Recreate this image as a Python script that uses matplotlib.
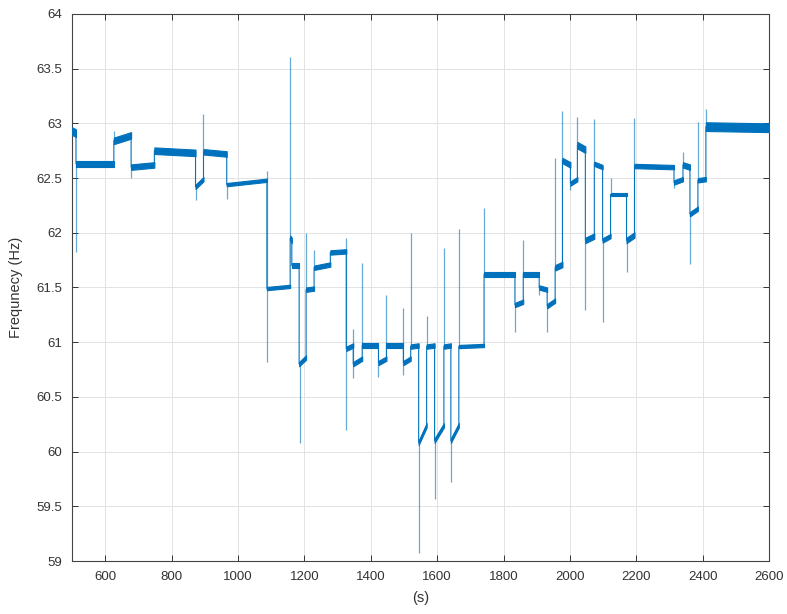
import numpy as np
import matplotlib.pyplot as plt

plt.rcParams['font.family'] = ['Liberation Sans', 'DejaVu Sans']

# step segments: start time (s), level at start and end of segment (Hz), noise half-width
seg_t = [500, 512, 626, 678, 748, 872, 896, 966, 1087, 1157, 1162, 1184, 1205, 1229,
         1278, 1326, 1347, 1374, 1423, 1447, 1498, 1520, 1544, 1568, 1592, 1620, 1641,
         1665, 1741, 1834, 1859, 1907, 1931, 1955, 1977, 2001, 2022, 2046, 2073, 2098,
         2122, 2170, 2194, 2313, 2340, 2361, 2385, 2409]
seg_end = 2600
lvl_start = [62.93, 62.63, 62.84, 62.60, 62.75, 62.42, 62.74, 62.44, 61.49, 61.95, 61.70,
             60.80, 61.48, 61.68, 61.82, 60.94, 60.80, 60.97, 60.81, 60.97, 60.81, 60.96,
             60.08, 60.96, 60.10, 60.96, 60.10, 60.96, 61.62, 61.34, 61.62, 61.50, 61.33,
             61.68, 62.66, 62.45, 62.80, 61.93, 62.63, 61.93, 62.35, 61.93, 62.61, 62.46,
             62.62, 62.17, 62.48, 62.97]
lvl_end = [62.91, 62.63, 62.89, 62.62, 62.73, 62.49, 62.72, 62.48, 61.51, 61.93, 61.70,
           60.86, 61.49, 61.71, 61.83, 60.97, 60.85, 60.97, 60.85, 60.97, 60.85, 60.97,
           60.24, 60.97, 60.24, 60.97, 60.24, 60.97, 61.62, 61.37, 61.62, 61.48, 61.38,
           61.71, 62.62, 62.49, 62.76, 61.97, 62.60, 61.97, 62.35, 61.98, 62.60, 62.49,
           62.60, 62.22, 62.49, 62.96]
spread = [0.035, 0.025, 0.03, 0.025, 0.03, 0.02, 0.025, 0.015, 0.015, 0.025, 0.02,
          0.02, 0.02, 0.02, 0.02, 0.02, 0.02, 0.02, 0.02, 0.02, 0.02, 0.02,
          0.02, 0.02, 0.02, 0.02, 0.02, 0.015, 0.02, 0.02, 0.025, 0.02, 0.02,
          0.025, 0.025, 0.02, 0.03, 0.025, 0.02, 0.02, 0.015, 0.025, 0.02, 0.02,
          0.025, 0.02, 0.02, 0.04]

# transient spikes: time (s) and extreme value (Hz)
spike_t = [512, 626, 678, 872, 896, 966, 1087, 1087, 1157, 1188, 1205, 1229, 1326, 1326,
           1347, 1347, 1374, 1423, 1447, 1498, 1498, 1520, 1544, 1568, 1592, 1620, 1641,
           1665, 1741, 1834, 1859, 1907, 1931, 1955, 1977, 2001, 2022, 2046, 2073, 2098,
           2122, 2170, 2194, 2313, 2340, 2361, 2385, 2409]
spike_y = [61.82, 62.93, 62.50, 62.30, 63.09, 62.31, 62.56, 60.82, 63.61, 60.08, 62.00,
           61.84, 61.95, 60.20, 61.12, 60.67, 61.72, 60.68, 61.43, 61.31, 60.70, 62.00,
           59.07, 61.24, 59.57, 61.86, 59.72, 62.03, 62.23, 61.09, 61.93, 61.43, 61.09,
           62.68, 63.11, 62.39, 63.06, 61.29, 63.04, 61.18, 62.50, 61.64, 63.05, 62.41,
           62.74, 61.71, 63.01, 63.13]

blue = '#0072BD'
ends = seg_t[1:] + [seg_end]

fig = plt.figure(figsize=(7.87, 6.14), dpi=100)
ax = fig.add_axes([0.0915, 0.0863, 0.886, 0.891])

# connecting trace
xs, ys = [], []
for t0, t1, a, b in zip(seg_t, ends, lvl_start, lvl_end):
    xs += [t0, t1]
    ys += [a, b]
ax.plot(xs, ys, color=blue, lw=0.8, zorder=3)

# noisy plateaus
for t0, t1, a, b, s in zip(seg_t, ends, lvl_start, lvl_end, spread):
    ax.fill_between([t0, t1], [a - s, b - s], [a + s, b + s], color=blue, lw=0.8,
                    edgecolor=blue, zorder=4)

# spikes
for t, y in zip(spike_t, spike_y):
    i = np.searchsorted(seg_t, t, side='right') - 1
    base = lvl_start[i]
    ax.vlines(t, min(base, y), max(base, y), color=blue, lw=0.9, alpha=0.6, zorder=3)

ax.set_xlim(500, 2600)
ax.set_ylim(59, 64)
ax.set_xticks(np.arange(600, 2601, 200))
ax.set_yticks(np.arange(59, 64.01, 0.5))
ax.set_yticklabels(['59', '59.5', '60', '60.5', '61', '61.5', '62', '62.5', '63', '63.5', '64'])
ax.grid(True, color='#e3e3e3', lw=0.7)
ax.set_axisbelow(True)
ax.tick_params(direction='in', top=True, right=True, length=4, labelsize=9.5,
               colors='#333333', width=0.7, pad=7)
for sp in ax.spines.values():
    sp.set_color('#444444')
    sp.set_linewidth(0.8)
ax.set_xlabel('(s)', fontsize=10.5, color='#333333', labelpad=6)
ax.set_ylabel('Frequnecy (Hz)', fontsize=10.5, color='#333333', labelpad=10)

fig.savefig('out.png', dpi=100)
